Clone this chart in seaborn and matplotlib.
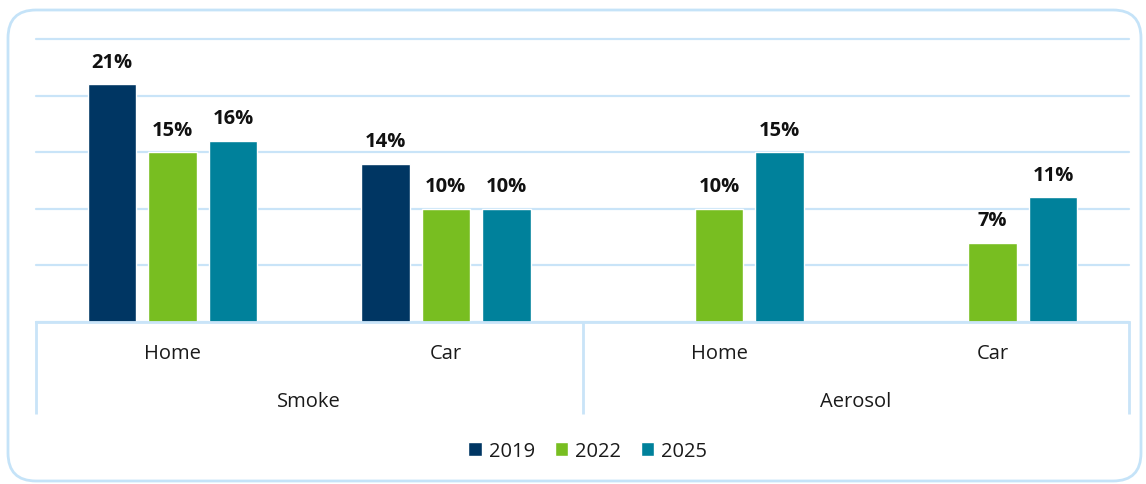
import numpy as np
import pandas as pd
import matplotlib
matplotlib.use("Agg")
import matplotlib.pyplot as plt
import matplotlib.transforms as mtransforms
from matplotlib.patches import FancyBboxPatch
import seaborn as sns

# ---- data ----
groups = ["Smoke", "Smoke", "Aerosol", "Aerosol"]
places = ["Home", "Car", "Home", "Car"]
years = ["2019", "2022", "2025"]
v2019 = [21, 14, np.nan, np.nan]
v2022 = [15, 10, 10, 7]
v2025 = [16, 10, 15, 11]
colors = ["#003663", "#78BE21", "#00819B"]

sns.set_theme(style="white")
plt.rcParams["font.family"] = ["Open Sans", "DejaVu Sans"]

keys = [f"{g}|{p}" for g, p in zip(groups, places)]
rows = []
for yr, vals in zip(years, [v2019, v2022, v2025]):
    for k, v in zip(keys, vals):
        rows.append({"key": k, "year": yr, "value": v})
df = pd.DataFrame(rows)

fig = plt.figure(figsize=(11.46, 4.85), dpi=100)
ax = fig.add_axes([36 / 1146, (485 - 323) / 485, (1129 - 36) / 1146, 283 / 485])

sns.barplot(data=df, x="key", y="value", hue="year", order=keys, hue_order=years,
            palette=colors, width=0.665, gap=0.2, ax=ax, errorbar=None,
            legend=True, saturation=1)

ax.set_ylim(0, 25)
ax.set_xlim(-0.5, len(keys) - 0.5)
ax.set_yticks(np.arange(0, 26, 5))
ax.set_yticklabels([])
ax.tick_params(axis="both", length=0)
ax.set_xticklabels([])
ax.set_xlabel("")
ax.set_ylabel("")
grid_c = "#C9E4F8"
ax.yaxis.grid(True, color=grid_c, linewidth=1.6)
for gl in ax.get_ygridlines():
    gl.set_clip_on(False)
ax.set_axisbelow(True)
for s in ["top", "left", "right"]:
    ax.spines[s].set_visible(False)
ax.spines["bottom"].set_color(grid_c)
ax.spines["bottom"].set_linewidth(2.0)
ax.spines["bottom"].set_zorder(3)

# bar labels
for cont in ax.containers:
    ax.bar_label(cont, fmt="%d%%", padding=9, fontsize=14.5, fontweight="bold",
                 color="#111111")

# multi-level axis labels
trans = mtransforms.blended_transform_factory(ax.transData, ax.transAxes)
for i, p in enumerate(places):
    ax.text(i, -0.11, p, transform=trans, ha="center", va="center",
            fontsize=14.5, color="#1a1a1a")
uniq = []
for g in groups:
    if g not in uniq:
        uniq.append(g)
for g in uniq:
    idx = [i for i, gg in enumerate(groups) if gg == g]
    ax.text(np.mean(idx), -0.28, g, transform=trans, ha="center", va="center",
            fontsize=14.5, color="#1a1a1a")
bounds = [-0.5] + [i + 0.5 for i in range(len(groups) - 1) if groups[i] != groups[i + 1]] + [len(groups) - 0.5]
for b in bounds:
    ax.plot([b, b], [0, -0.325], transform=trans, color=grid_c, lw=2.0,
            clip_on=False, solid_capstyle="butt")

# legend
h, l = ax.get_legend_handles_labels()
leg = ax.legend(h, l, loc="center", bbox_to_anchor=(0.513, (485 - 452) / 485),
                bbox_transform=fig.transFigure, ncol=3, frameon=False, fontsize=14.5,
                handlelength=0.65, handleheight=0.65, handletextpad=0.35,
                columnspacing=1.0)
for t in leg.get_texts():
    t.set_color("#1a1a1a")

# rounded outer border
border = FancyBboxPatch((8, 3), 1133, 471, boxstyle="round,pad=0,rounding_size=28",
                        transform=None, facecolor="none", edgecolor="#C5E3F8", lw=2.0)
fig.patches.append(border)

fig.savefig("out.png", dpi=100)
